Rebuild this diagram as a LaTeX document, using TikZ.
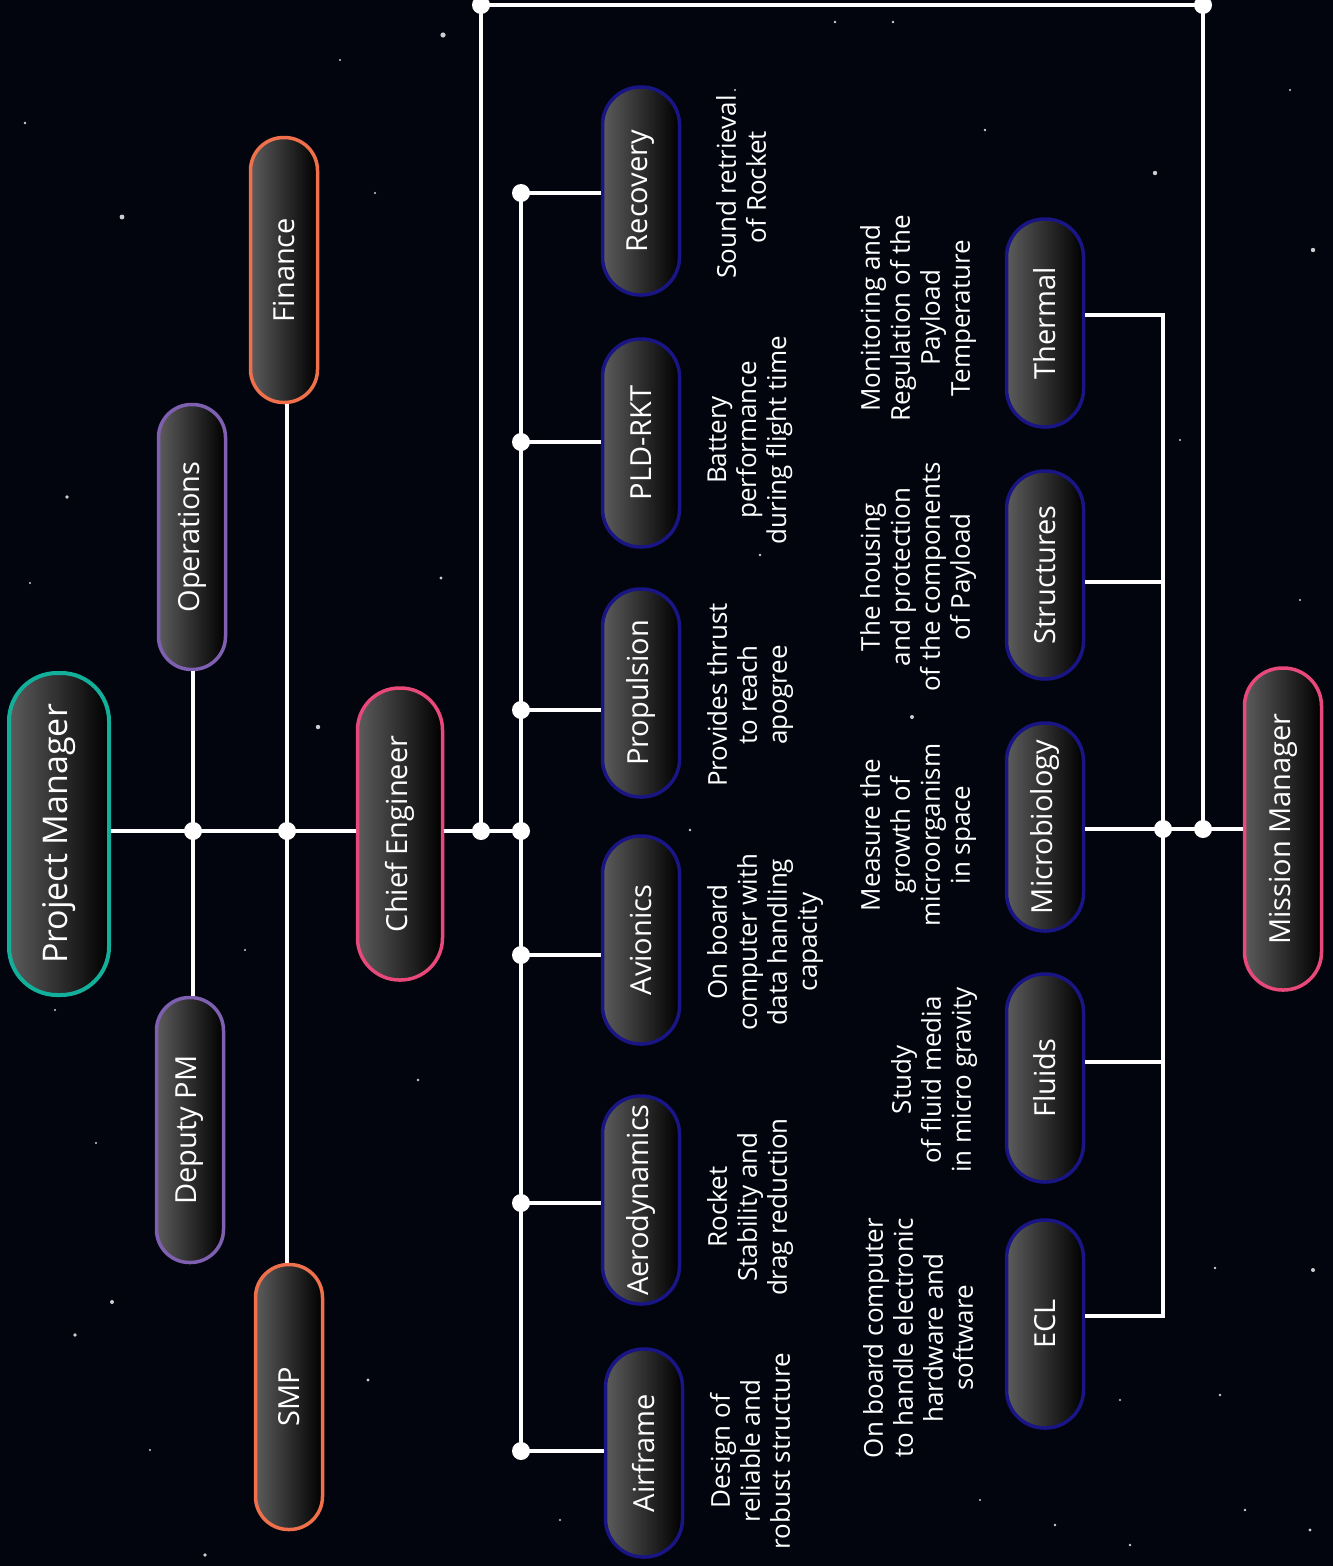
\documentclass[tikz,border=0pt]{standalone}
\usepackage{fontspec}
\setmainfont{Open Sans}
\definecolor{bgc}{HTML}{02050E}
\definecolor{tealc}{HTML}{12B09B}
\definecolor{pinkc}{HTML}{E8487A}
\definecolor{purplec}{HTML}{7E5FB0}
\definecolor{orangec}{HTML}{F0704C}
\definecolor{navyc}{HTML}{1A1585}
\definecolor{pillgrey}{HTML}{5C5C5C}
\definecolor{pillmid}{HTML}{262626}
\tikzset{
  pillbase/.style={rectangle, rotate=90, inner sep=0pt, line width=3.5pt, text=white,
    left color=pillgrey, middle color=pillmid, right color=black,
    font=\fontsize{29}{34}\selectfont},
  subbox/.style={pillbase, draw=navyc, minimum width=208pt, minimum height=77pt, rounded corners=38pt},
  sidebox/.style={pillbase, minimum width=265pt, minimum height=67pt, rounded corners=33pt},
  desc/.style={rotate=90, align=center, text=white, inner sep=0pt, font=\fontsize{26}{30}\selectfont},
  conn/.style={draw=white, line width=4pt},
  dot/.style={circle, fill=white, inner sep=0pt, minimum size=18pt},
  star/.style={fill=white, opacity=#1},
  star/.default=0.8
}
\begin{document}
\begin{tikzpicture}[x=1pt,y=-1pt]
\useasboundingbox (0,0) rectangle (1333,1566);
\fill[bgc] (0,0) rectangle (1333,1566);
% stars
\foreach \sx/\sy/\sr in {443/35/2.6, 122/217/2.4, 25/123/1.3, 375/193/1.2, 30/583/1.2, 67/497/1.8,
  318/727/2.2, 112/1302/2, 75/1335/1.8, 96/1143/1.2, 368/1380/1.6, 418/1080/1.4, 441/578/1.6,
  205/1555/1.8, 1155/173/2.2, 1313/250/2.2, 1313/1270/2, 912/717/2, 985/130/1.4, 690/830/1.4,
  760/555/1.4, 1310/1530/1.6, 1055/1525/1.4, 1130/1545/1.4, 1245/1510/1.4, 1215/1268/1.4,
  1220/1395/1.4, 835/22/1.3, 893/22/1.3, 245/950/1.2, 150/1450/1.2, 55/1010/1.2, 1290/90/1.2,
  1180/440/1.2, 1300/600/1.2, 980/1500/1.2, 560/1520/1.2, 340/60/1.2, 1120/1400/1.2, 735/90/1.2}
  {\fill[star] (\sx,\sy) circle (\sr pt);}

% nodes
\node[pillbase, draw=tealc, line width=4pt, minimum width=322pt, minimum height=100pt, rounded corners=48pt,
  font=\fontsize{34}{40}\selectfont] (pm) at (59,834) {Project Manager};
\node[pillbase, draw=pinkc, minimum width=292pt, minimum height=85pt, rounded corners=42pt] (ce) at (400,834) {Chief Engineer};
\node[pillbase, draw=pinkc, minimum width=322pt, minimum height=77pt, rounded corners=38pt] (mm) at (1283,829) {Mission Manager};
\node[sidebox, draw=purplec] (ops) at (192,537) {Operations};
\node[sidebox, draw=purplec] (dpm) at (190,1130) {Deputy PM};
\node[sidebox, draw=orangec] (fin) at (284,270) {Finance};
\node[sidebox, draw=orangec] (smp) at (289,1397) {SMP};

\node[subbox] (rec) at (641,191) {Recovery};
\node[subbox] (pld) at (641,443) {PLD-RKT};
\node[subbox] (prop) at (641,693) {Propulsion};
\node[subbox] (avi) at (641,940) {Avionics};
\node[subbox] (aero) at (641,1200) {Aerodynamics};
\node[subbox] (air) at (644,1453) {Airframe};

\node[subbox] (therm) at (1045,323) {Thermal};
\node[subbox] (struct) at (1045,575) {Structures};
\node[subbox] (micro) at (1045,827) {Microbiology};
\node[subbox] (fluid) at (1045,1078) {Fluids};
\node[subbox] (ecl) at (1045,1324) {ECL};

% descriptions
\node[desc] (drec) at (741,187) {Sound retrieval\\of Rocket};
\node[desc] (dpld) at (750,440) {Battery\\performance\\during flight time};
\node[desc] (dprop) at (750,695) {Provides thrust\\to reach\\apogree};
\node[desc] (davi) at (765,942) {On board\\computer with\\data handling\\capacity};
\node[desc] (daero) at (750,1207) {Rocket\\Stability and\\drag reduction};
\node[desc] (dair) at (750,1451) {Design of\\reliable and\\robust structure};
\node[desc] (dtherm) at (918,318) {Monitoring and\\Regulation of the\\Payload\\Temperature};
\node[desc] (dstruct) at (918,577) {The housing\\and protection\\of the components\\of Payload};
\node[desc] (dmicro) at (918,835) {Measure the\\growth of\\microorganism\\in space};
\node[desc] (dfluid) at (934,1080) {Study\\of fluid media\\in micro gravity};
\node[desc] (decl) at (918,1338) {On board computer\\to handle electronic\\hardware and\\software};

% junction coordinates
\coordinate (j1) at (193,831);
\coordinate (j2) at (287,831);
\coordinate (j3) at (481,831);
\coordinate (j4) at (521,831);
\coordinate (t1) at (481,5);
\coordinate (t2) at (1203,5);
\coordinate (j5) at (1163,829);
\coordinate (j6) at (1203,829);
\coordinate (b1) at (521,193);
\coordinate (b2) at (521,442);
\coordinate (b3) at (521,710);
\coordinate (b4) at (521,955);
\coordinate (b5) at (521,1203);
\coordinate (b6) at (521,1451);
\coordinate (r1) at (1163,315);
\coordinate (r2) at (1163,582);
\coordinate (r4) at (1163,1062);
\coordinate (r5) at (1163,1316);

% connectors
\draw[conn] (pm.south |- j1) -- (ce.north |- j1);
\draw[conn] (ops.west -| j1) -- (dpm.east -| j1);
\draw[conn] (fin.west -| j2) -- (smp.east -| j2);
\draw[conn] (ce.south |- j1) -- (j4);
\draw[conn, line join=miter] (j3) -- (t1) -- (t2) -- (j6) -- (mm.north |- j6);
\draw[conn] (b1) -- (b6);
\draw[conn] (b1) -- (rec.north |- b1);
\draw[conn] (b2) -- (pld.north |- b2);
\draw[conn] (b3) -- (prop.north |- b3);
\draw[conn] (b4) -- (avi.north |- b4);
\draw[conn] (b5) -- (aero.north |- b5);
\draw[conn] (b6) -- (air.north |- b6);
\draw[conn, line join=miter] (therm.south |- r1) -- (r1) -- (r5) -- (ecl.south |- r5);
\draw[conn] (struct.south |- r2) -- (r2);
\draw[conn] (fluid.south |- r4) -- (r4);
\draw[conn] (micro.south |- j5) -- (j6);

% dots
\foreach \d in {j1,j2,j3,j4,t1,t2,j5,j6,b1,b2,b3,b4,b5,b6}
  \node[dot] at (\d) {};
\end{tikzpicture}
\end{document}
